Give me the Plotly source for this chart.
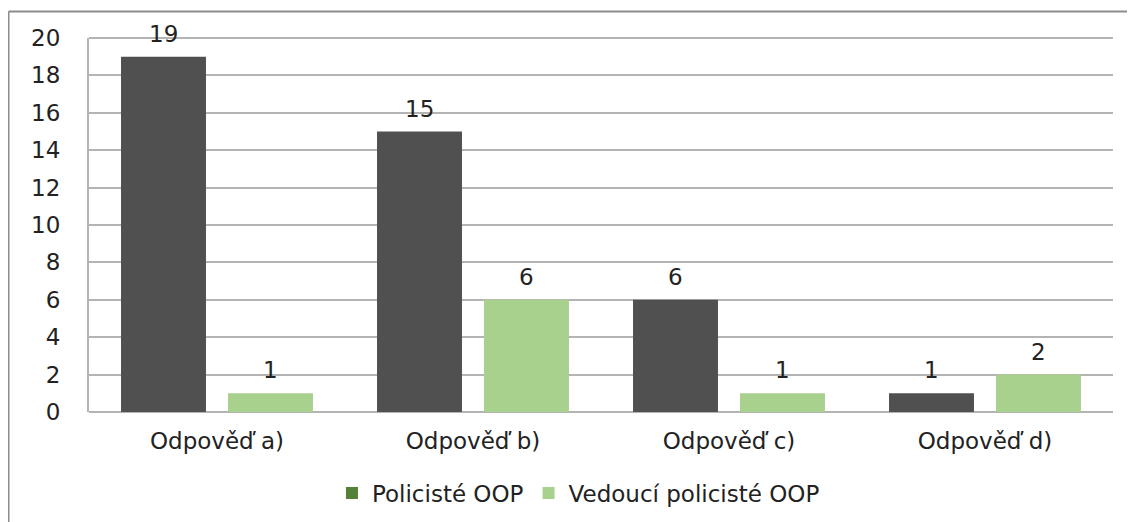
import plotly.graph_objects as go

categories = ["Odpověď a)", "Odpověď b)", "Odpověď c)", "Odpověď d)"]
policiste = [19, 15, 6, 1]
vedouci = [1, 6, 1, 2]
series_names = ["Policisté OOP", "Vedoucí policisté OOP"]

bar_colors = ["#505050", "#a9d18e"]
legend_colors = ["#538135", "#a9d18e"]
FONT = "DejaVu Sans"
TXT = "#222222"
FS = 23

fig = go.Figure()
for name, vals, col in zip(series_names, [policiste, vedouci], bar_colors):
    fig.add_trace(go.Bar(
        x=categories, y=vals, name=name, marker_color=col,
        marker_line_width=0, cliponaxis=False, showlegend=False,
    ))
for name, col in zip(series_names, legend_colors):
    fig.add_trace(go.Scatter(
        x=[None], y=[None], mode="markers", name=name,
        marker=dict(symbol="square", size=16, color=col),
    ))

# value labels above bars (offset within group by half the slot width)
slot_px = 107
annotations = []
for vals, shift in zip([policiste, vedouci], [-slot_px / 2, slot_px / 2]):
    for c, v in zip(categories, vals):
        annotations.append(dict(
            x=c, y=v, xref="x", yref="y", text=str(v), showarrow=False,
            xanchor="center", yanchor="bottom", xshift=shift, yshift=8,
            font=dict(family=FONT, size=FS, color=TXT),
        ))

fig.update_layout(
    width=1135, height=522,
    margin=dict(l=81, r=30, t=30, b=118),
    paper_bgcolor="white", plot_bgcolor="white",
    barmode="group", bargap=0.164, bargroupgap=0.206,
    font=dict(family=FONT, size=FS, color=TXT),
    showlegend=True,
    legend=dict(orientation="h", x=0.478, xanchor="center", y=-0.2166,
                yanchor="middle", font=dict(family=FONT, size=FS, color=TXT),
                itemsizing="constant"),
    xaxis=dict(showgrid=False, showline=False, ticks="", ticklabelstandoff=13,
               tickfont=dict(family=FONT, size=FS, color=TXT)),
    yaxis=dict(range=[0, 20], dtick=2, showgrid=True, gridcolor="#b4b4b4",
               gridwidth=2, showline=True, linecolor="#b4b4b4", linewidth=2,
               zeroline=True, zerolinecolor="#b4b4b4", zerolinewidth=2,
               ticks="", ticklabelstandoff=22,
               tickfont=dict(family=FONT, size=FS, color=TXT)),
    annotations=annotations,
    shapes=[
        dict(type="line", xref="paper", yref="paper", x0=-0.0786, x1=1.05,
             y0=1.0709, y1=1.0709, line=dict(color="#8c8c8c", width=2)),
        dict(type="line", xref="paper", yref="paper", x0=-0.0786, x1=-0.0786,
             y0=1.0709, y1=-0.35, line=dict(color="#8c8c8c", width=2)),
        dict(type="line", xref="paper", yref="paper", x0=0, x1=1,
             y0=1, y1=1, line=dict(color="#b4b4b4", width=2)),
    ],
)

fig.write_html("out.html")
